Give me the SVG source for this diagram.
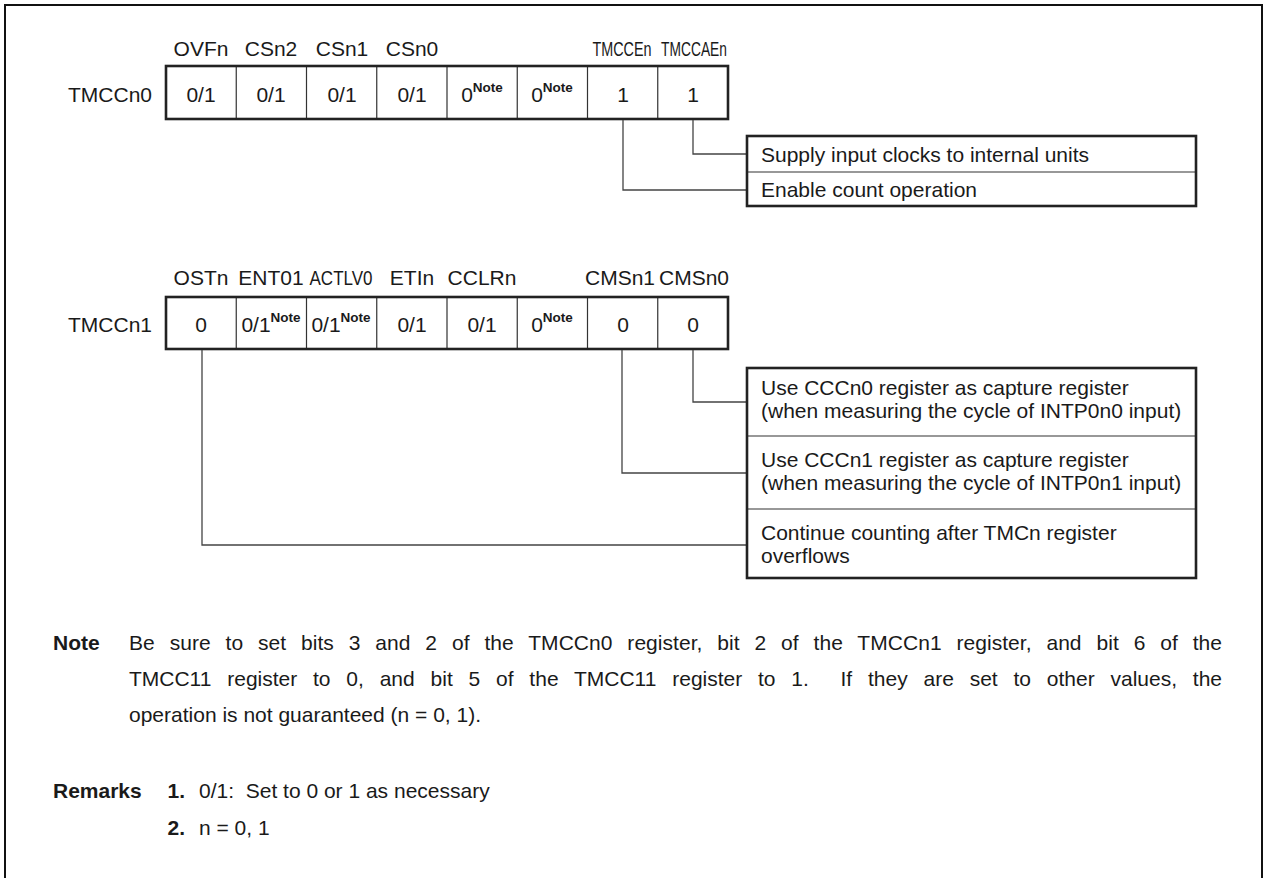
<svg xmlns="http://www.w3.org/2000/svg" width="1265" height="878" viewBox="0 0 1265 878">
<style>
.t{font-family:"Liberation Sans",Arial,Helvetica,sans-serif;font-size:21px;fill:#1a1a1a}
.c{text-anchor:middle}
.e{text-anchor:end}
.b{font-weight:bold}
.sup{font-size:13.5px;font-weight:bold}
.nar{font-size:20px}
.outer{fill:none;stroke:#222;stroke-width:2.6}
.dv{stroke:#333;stroke-width:1.2;fill:none}
.conn{fill:none;stroke:#444;stroke-width:1.3}
.frame{fill:none;stroke:#111;stroke-width:2}
</style>
<rect width="1265" height="878" fill="#fff"/>
<path class="frame" d="M5,878 V5 H1262 V878"/>

<g id="reg-TMCCn0">
  <text class="t e" x="152" y="102">TMCCn0</text>
  <text class="t c" x="201" y="56">OVFn</text>
  <text class="t c" x="271" y="56">CSn2</text>
  <text class="t c" x="342" y="56">CSn1</text>
  <text class="t c" x="412" y="56">CSn0</text>
  <text class="t c nar" transform="translate(622,56) scale(0.72,1)">TMCCEn</text>
  <text class="t c nar" transform="translate(694,56) scale(0.69,1)">TMCCAEn</text>
  <path class="dv" d="M236.25,66V119M306.5,66V119M376.75,66V119M447,66V119M517.25,66V119M587.5,66V119M657.75,66V119"/>
  <rect class="outer" x="166" y="66" width="562" height="53"/>
  <text class="t c" x="201" y="102">0/1</text>
  <text class="t c" x="271" y="102">0/1</text>
  <text class="t c" x="342" y="102">0/1</text>
  <text class="t c" x="412" y="102">0/1</text>
  <text class="t c" x="482" y="102">0<tspan class="sup" dy="-10">Note</tspan></text>
  <text class="t c" x="552" y="102">0<tspan class="sup" dy="-10">Note</tspan></text>
  <text class="t c" x="623" y="102">1</text>
  <text class="t c" x="693" y="102">1</text>
</g>

<g id="reg-TMCCn1">
  <text class="t e" x="152" y="332">TMCCn1</text>
  <text class="t c" x="201" y="285">OSTn</text>
  <text class="t c" x="271" y="285">ENT01</text>
  <text class="t c nar" transform="translate(341,285) scale(0.85,1)">ACTLV0</text>
  <text class="t c" x="412" y="285">ETIn</text>
  <text class="t c" x="482" y="285">CCLRn</text>
  <text class="t c" x="620" y="285">CMSn1</text>
  <text class="t c" x="694" y="285">CMSn0</text>
  <path class="dv" d="M236.25,297V349M306.5,297V349M376.75,297V349M447,297V349M517.25,297V349M587.5,297V349M657.75,297V349"/>
  <rect class="outer" x="166" y="297" width="562" height="52"/>
  <text class="t c" x="201" y="332">0</text>
  <text class="t c" x="271" y="332">0/1<tspan class="sup" dy="-10">Note</tspan></text>
  <text class="t c" x="341" y="332">0/1<tspan class="sup" dy="-10">Note</tspan></text>
  <text class="t c" x="412" y="332">0/1</text>
  <text class="t c" x="482" y="332">0/1</text>
  <text class="t c" x="552" y="332">0<tspan class="sup" dy="-10">Note</tspan></text>
  <text class="t c" x="623" y="332">0</text>
  <text class="t c" x="693" y="332">0</text>
</g>

<g id="connectors">
  <path class="conn" d="M693,120V154H747"/>
  <path class="conn" d="M623,120V190H747"/>
  <path class="conn" d="M693,350V402H747"/>
  <path class="conn" d="M622,350V473H747"/>
  <path class="conn" d="M202,350V545H747"/>
</g>

<g id="desc-TMCCn0">
  <path class="dv" d="M747,172H1196"/>
  <rect class="outer" x="747" y="136" width="449" height="70"/>
  <g id="desc-TMCCAEn"><text class="t" x="761" y="162">Supply input clocks to internal units</text></g>
  <g id="desc-TMCCEn"><text class="t" x="761" y="197">Enable count operation</text></g>
</g>

<g id="desc-TMCCn1">
  <path class="dv" d="M747,436H1196M747,509H1196"/>
  <rect class="outer" x="747" y="368" width="449" height="210"/>
  <g id="desc-CMSn0">
    <text class="t" x="761" y="395">Use CCCn0 register as capture register</text>
    <text class="t" x="761" y="418">(when measuring the cycle of INTP0n0 input)</text>
  </g>
  <g id="desc-CMSn1">
    <text class="t" x="761" y="467">Use CCCn1 register as capture register</text>
    <text class="t" x="761" y="490">(when measuring the cycle of INTP0n1 input)</text>
  </g>
  <g id="desc-OSTn">
    <text class="t" x="761" y="540">Continue counting after TMCn register</text>
    <text class="t" x="761" y="563">overflows</text>
  </g>
</g>

<g id="notes">
  <text class="t b" x="53" y="650">Note</text>
  <text class="t" x="129" y="650" style="word-spacing:9px" textLength="1093" lengthAdjust="spacing">Be sure to set bits 3 and 2 of the TMCCn0 register, bit 2 of the TMCCn1 register, and bit 6 of the</text>
  <text class="t" x="129" y="686" style="word-spacing:10px" textLength="1093" lengthAdjust="spacing">TMCC11 register to 0, and bit 5 of the TMCC11 register to 1.&#160; If they are set to other values, the</text>
  <text class="t" x="129" y="722">operation is not guaranteed (n = 0, 1).</text>
  <text class="t b" x="53" y="798">Remarks</text>
  <text class="t b e" x="185" y="798">1.</text>
  <text class="t" x="199" y="798">0/1:&#160; Set to 0 or 1 as necessary</text>
  <text class="t b e" x="185" y="835">2.</text>
  <text class="t" x="199" y="835">n = 0, 1</text>
</g>
</svg>
